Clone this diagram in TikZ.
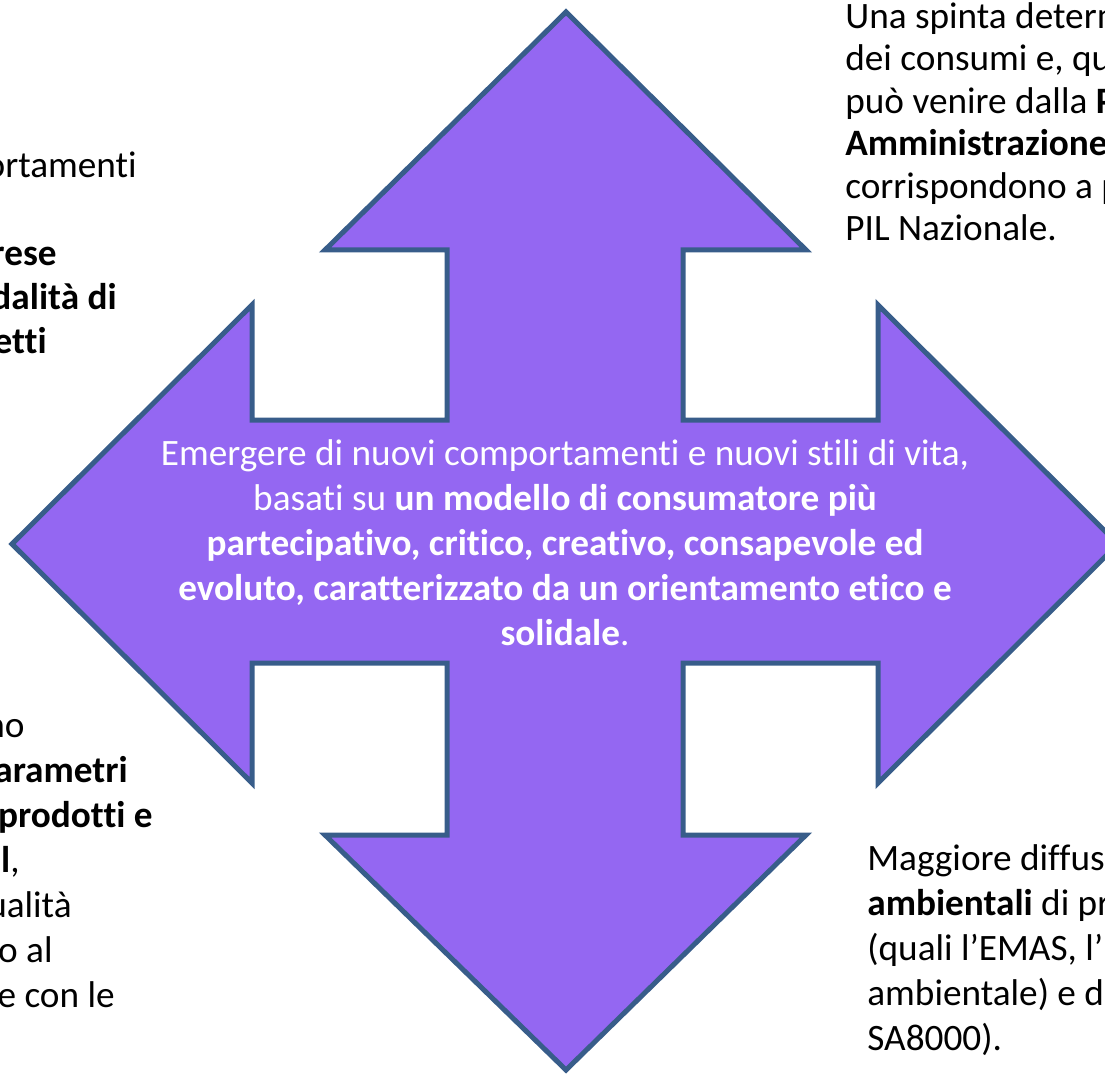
\documentclass[tikz,border=0pt]{standalone}
\usepackage{fontspec}
\setmainfont{Carlito}[Ligatures=CommonOff]
\usetikzlibrary{positioning}
\definecolor{arrowfill}{RGB}{148,103,242}
\definecolor{arrowline}{RGB}{56,93,138}

\begin{document}
\begin{tikzpicture}[x=0.02cm, y=-0.02cm,
    sidetext/.style={inner sep=0pt, align=left, font=\fontsize{21.2}{25.6}\selectfont},
    midtext/.style={inner sep=0pt, text=white, align=center, font=\fontsize{21.2}{25.6}\selectfont}]
    \useasboundingbox (0,0) rectangle (1105,1074);
    % Four-way arrow
    \filldraw[fill=arrowfill, draw=arrowline, line width=0.1cm]
        (566,12) -- (806,250) -- (683,250) -- (683,420) -- (878,420) -- (878,305)
        -- (1118,544) -- (878,783) -- (878,663) -- (683,663) -- (683,835) -- (806,835)
        -- (566,1070) -- (325,835) -- (447,835) -- (447,663) -- (252,663) -- (252,783)
        -- (12,544) -- (252,305) -- (252,420) -- (447,420) -- (447,250) -- (325,250) -- cycle;
    % Text in the middle (anchored at its last line)
    \node[midtext, anchor=base] (mid) at (565,645) {Emergere di nuovi comportamenti e nuovi stili di vita,\\
        basati su \textbf{un modello di consumatore più}\\
        \textbf{partecipativo, critico, creativo, consapevole ed}\\
        \textbf{evoluto, caratterizzato da un orientamento etico e}\\
        \textbf{solidale}.};
    % Top right
    \node[sidetext, anchor=base west, font=\fontsize{21.2}{24.2}\selectfont] (tr) at (845,241) {Una spinta determ\\
        dei consumi e, qu\\
        può venire dalla \textbf{P}\\
        \textbf{Amministrazione}\\
        corrispondono a p\\
        PIL Nazionale.};
    % Bottom right
    \node[sidetext, anchor=base west] (br) at (867,1050) {Maggiore diffus\\
        \textbf{ambientali} di pr\\
        (quali l’EMAS, l’I\\
        ambientale) e d\\
        SA8000).};
    % Top left (cut by the border)
    \node[sidetext, anchor=base east] (tl1) at (137,178) {ortamenti};
    \node[sidetext, anchor=base east] (tl2) at (57,266) {\textbf{rese}};
    \node[sidetext, anchor=base east] (tl3) at (117,310) {\textbf{dalità di}};
    \node[sidetext, anchor=base east] (tl4) at (47,354) {\textbf{etti}};
    % Bottom left (cut by the border)
    \node[sidetext, anchor=base east] (bl1) at (25,737) {no};
    \node[sidetext, anchor=base east] (bl2) at (128,782) {\textbf{arametri}};
    \node[sidetext, anchor=base east] (bl3) at (153,827) {\textbf{prodotti e}};
    \node[sidetext, anchor=base east] (bl4) at (20,872) {\textbf{l},};
    \node[sidetext, anchor=base east] (bl5) at (72,917) {ualità};
    \node[sidetext, anchor=base east] (bl6) at (53,962) {o al};
    \node[sidetext, anchor=base east] (bl7) at (115,1007) {e con le};
\end{tikzpicture}
\end{document}
